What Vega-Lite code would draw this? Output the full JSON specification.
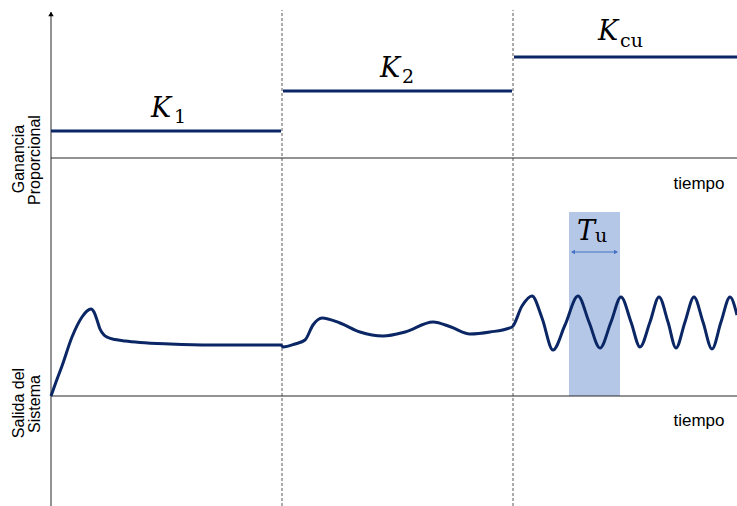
{
  "$schema": "https://vega.github.io/schema/vega-lite/v6.json",
  "width": 737,
  "height": 506,
  "padding": 0,
  "autosize": "none",
  "background": "white",
  "config": {"view": {"stroke": null}},
  "datasets": {
    "band": [{"t": 569, "t2": 620, "v": 110, "v2": 294}],
    "dividers": [
      {"t": 282, "v": 0, "v2": 496},
      {"t": 513, "v": 0, "v2": 496}
    ],
    "axes": [
      {"t": 51, "t2": 51, "v": 0, "v2": 494},
      {"t": 51, "t2": 737, "v": 348, "v2": 348},
      {"t": 51, "t2": 737, "v": 110, "v2": 110}
    ],
    "gain": [
      {"t": 51, "t2": 281, "v": 375},
      {"t": 283, "t2": 512, "v": 415},
      {"t": 514, "t2": 737, "v": 449}
    ],
    "response": [
      {"t": 51, "v": 110}, {"t": 56, "v": 124}, {"t": 62, "v": 140}, {"t": 72, "v": 169},
      {"t": 82, "v": 189}, {"t": 87, "v": 195}, {"t": 91, "v": 197}, {"t": 94, "v": 194},
      {"t": 97, "v": 186}, {"t": 100, "v": 177}, {"t": 104, "v": 171}, {"t": 108, "v": 168.5},
      {"t": 115, "v": 166.5}, {"t": 125, "v": 165}, {"t": 140, "v": 163.5}, {"t": 170, "v": 162},
      {"t": 210, "v": 161}, {"t": 245, "v": 161}, {"t": 281, "v": 161},
      {"t": 283, "v": 159}, {"t": 295, "v": 162}, {"t": 305, "v": 166}, {"t": 313, "v": 181},
      {"t": 322, "v": 188}, {"t": 340, "v": 183}, {"t": 360, "v": 174}, {"t": 383, "v": 170},
      {"t": 405, "v": 174}, {"t": 433, "v": 184}, {"t": 451, "v": 179}, {"t": 470, "v": 172},
      {"t": 490, "v": 174}, {"t": 512, "v": 179},
      {"t": 522, "v": 200}, {"t": 532, "v": 210}, {"t": 542, "v": 188}, {"t": 553, "v": 156},
      {"t": 565, "v": 181}, {"t": 578, "v": 210}, {"t": 589, "v": 184}, {"t": 600, "v": 158},
      {"t": 611, "v": 184}, {"t": 621, "v": 209}, {"t": 631, "v": 184}, {"t": 640, "v": 159},
      {"t": 650, "v": 184}, {"t": 659, "v": 209}, {"t": 668, "v": 184}, {"t": 676, "v": 158},
      {"t": 685, "v": 184}, {"t": 694, "v": 209}, {"t": 703, "v": 184}, {"t": 712, "v": 157},
      {"t": 721, "v": 184}, {"t": 730, "v": 209}, {"t": 737, "v": 191}
    ],
    "period": [{"t": 572, "t2": 617, "v": 254}],
    "periodLeft": [{"t": 573, "v": 254}],
    "periodRight": [{"t": 616, "v": 254}],
    "axisTip": [{"t": 51, "v": 492}],
    "timeLabels": [
      {"t": 699, "v": 317, "label": "tiempo"},
      {"t": 699, "v": 80, "label": "tiempo"}
    ],
    "sideLabels": [
      {"t": 19, "v": 347, "label": "Ganancia"},
      {"t": 35, "v": 346, "label": "Proporcional"},
      {"t": 19, "v": 103, "label": "Salida del"},
      {"t": 35, "v": 102, "label": "Sistema"}
    ],
    "symbols": [
      {"t": 151, "v": 389, "label": "K"},
      {"t": 380, "v": 429, "label": "K"},
      {"t": 598, "v": 466, "label": "K"},
      {"t": 577, "v": 266, "label": "T"}
    ],
    "subscripts": [
      {"t": 174, "v": 383, "label": "1"},
      {"t": 402, "v": 423, "label": "2"},
      {"t": 620, "v": 459, "label": "cu"},
      {"t": 595, "v": 264, "label": "u"}
    ]
  },
  "layer": [
    {
      "data": {"name": "band"},
      "mark": {"type": "rect", "color": "#b4c7e7"},
      "encoding": {
        "x": {"field": "t", "type": "quantitative", "scale": {"domain": [0, 737], "nice": false, "zero": false}, "axis": null},
        "x2": {"field": "t2"},
        "y": {"field": "v", "type": "quantitative", "scale": {"domain": [0, 506], "nice": false, "zero": false}, "axis": null},
        "y2": {"field": "v2"}
      }
    },
    {
      "data": {"name": "dividers"},
      "mark": {"type": "rule", "color": "#595959", "strokeWidth": 1, "strokeDash": [3, 2]},
      "encoding": {
        "x": {"field": "t", "type": "quantitative"},
        "y": {"field": "v", "type": "quantitative"},
        "y2": {"field": "v2"}
      }
    },
    {
      "data": {"name": "axes"},
      "mark": {"type": "rule", "color": "#262626", "strokeWidth": 1},
      "encoding": {
        "x": {"field": "t", "type": "quantitative"},
        "x2": {"field": "t2"},
        "y": {"field": "v", "type": "quantitative"},
        "y2": {"field": "v2"}
      }
    },
    {
      "data": {"name": "axisTip"},
      "mark": {"type": "point", "shape": "triangle-up", "filled": true, "color": "#000000", "size": 30, "opacity": 1},
      "encoding": {
        "x": {"field": "t", "type": "quantitative"},
        "y": {"field": "v", "type": "quantitative"}
      }
    },
    {
      "data": {"name": "gain"},
      "mark": {"type": "rule", "color": "#0a2664", "strokeWidth": 3},
      "encoding": {
        "x": {"field": "t", "type": "quantitative"},
        "x2": {"field": "t2"},
        "y": {"field": "v", "type": "quantitative"}
      }
    },
    {
      "data": {"name": "response"},
      "mark": {"type": "line", "color": "#0a2664", "strokeWidth": 3, "interpolate": "monotone"},
      "encoding": {
        "x": {"field": "t", "type": "quantitative"},
        "y": {"field": "v", "type": "quantitative"}
      }
    },
    {
      "data": {"name": "period"},
      "mark": {"type": "rule", "color": "#4472c4", "strokeWidth": 1.2},
      "encoding": {
        "x": {"field": "t", "type": "quantitative"},
        "x2": {"field": "t2"},
        "y": {"field": "v", "type": "quantitative"}
      }
    },
    {
      "data": {"name": "periodLeft"},
      "mark": {"type": "point", "shape": "triangle-left", "filled": true, "color": "#4472c4", "size": 22, "opacity": 1},
      "encoding": {
        "x": {"field": "t", "type": "quantitative"},
        "y": {"field": "v", "type": "quantitative"}
      }
    },
    {
      "data": {"name": "periodRight"},
      "mark": {"type": "point", "shape": "triangle-right", "filled": true, "color": "#4472c4", "size": 22, "opacity": 1},
      "encoding": {
        "x": {"field": "t", "type": "quantitative"},
        "y": {"field": "v", "type": "quantitative"}
      }
    },
    {
      "data": {"name": "timeLabels"},
      "mark": {"type": "text", "font": "Liberation Sans", "fontSize": 17, "color": "#000000", "align": "center", "baseline": "alphabetic"},
      "encoding": {
        "x": {"field": "t", "type": "quantitative"},
        "y": {"field": "v", "type": "quantitative"},
        "text": {"field": "label"}
      }
    },
    {
      "data": {"name": "sideLabels"},
      "mark": {"type": "text", "font": "Liberation Sans", "fontSize": 16, "color": "#000000", "align": "center", "baseline": "middle", "angle": 270},
      "encoding": {
        "x": {"field": "t", "type": "quantitative"},
        "y": {"field": "v", "type": "quantitative"},
        "text": {"field": "label"}
      }
    },
    {
      "data": {"name": "symbols"},
      "mark": {"type": "text", "font": "DejaVu Serif", "fontStyle": "italic", "fontSize": 27, "color": "#000000", "align": "left", "baseline": "alphabetic"},
      "encoding": {
        "x": {"field": "t", "type": "quantitative"},
        "y": {"field": "v", "type": "quantitative"},
        "text": {"field": "label"}
      }
    },
    {
      "data": {"name": "subscripts"},
      "mark": {"type": "text", "font": "DejaVu Serif", "fontSize": 19, "color": "#000000", "align": "left", "baseline": "alphabetic"},
      "encoding": {
        "x": {"field": "t", "type": "quantitative"},
        "y": {"field": "v", "type": "quantitative"},
        "text": {"field": "label"}
      }
    }
  ]
}
